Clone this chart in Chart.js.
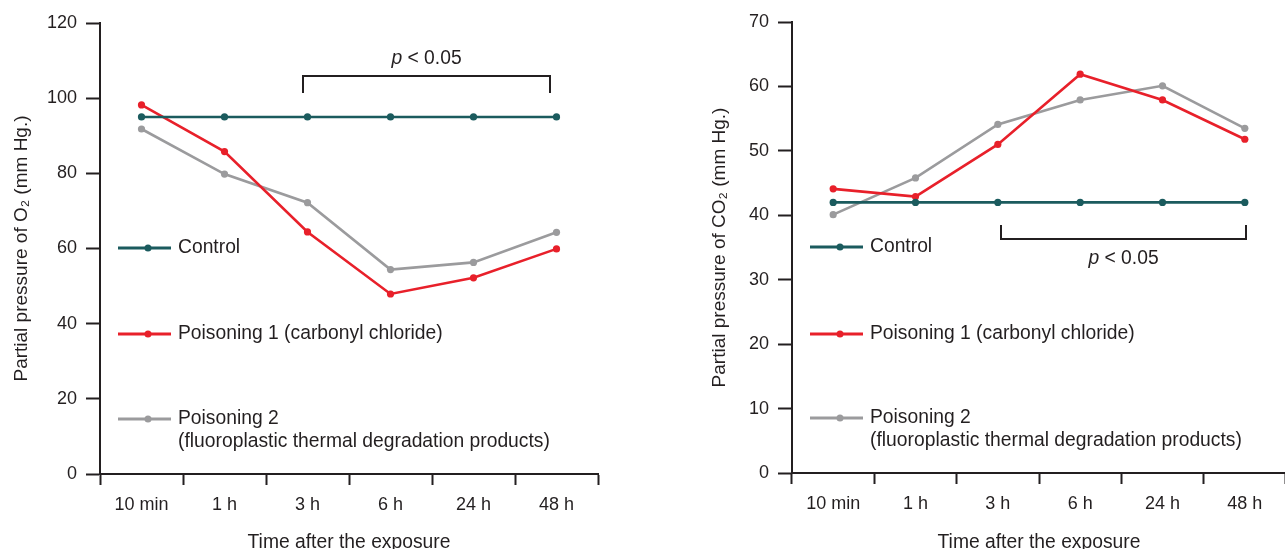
<!DOCTYPE html>
<html><head><meta charset="utf-8">
<script src="https://cdn.jsdelivr.net/npm/chart.js@4/dist/chart.umd.min.js"></script>
<style>
html,body{margin:0;padding:0;background:#fff;overflow:hidden;width:1285px;height:549px;position:relative;}
canvas{position:absolute;top:0;}
#c1{left:0;} #c2{left:690px;}
</style></head><body>
<canvas id="c1" width="640" height="560"></canvas>
<canvas id="c2" width="600" height="560"></canvas>
<script>
// ---- data ----
const categories = ['10 min', '1 h', '3 h', '6 h', '24 h', '48 h'];
const seriesNames = ['Control', 'Poisoning 1 (carbonyl chloride)', 'Poisoning 2'];
const legendLines = [['Control'], ['Poisoning 1 (carbonyl chloride)'], ['Poisoning 2', '(fluoroplastic thermal degradation products)']];
const o2Control = [95, 95, 95, 95, 95, 95];
const o2Poison1 = [98.2, 85.8, 64.4, 47.9, 52.2, 59.9];
const o2Poison2 = [91.8, 79.8, 72.2, 54.4, 56.3, 64.3];
const co2Control = [42, 42, 42, 42, 42, 42];
const co2Poison1 = [44.1, 42.9, 51.0, 61.9, 57.9, 51.8];
const co2Poison2 = [40.1, 45.8, 54.1, 57.9, 60.1, 53.5];
const o2TickValues = [0, 20, 40, 60, 80, 100, 120];
const co2TickValues = [0, 10, 20, 30, 40, 50, 60, 70];
const o2Title = 'Partial pressure of O\u2082 (mm Hg.)';
const co2Title = 'Partial pressure of CO\u2082 (mm Hg.)';
const xTitle = 'Time after the exposure';
const sigText = ['p', ' < 0.05'];

// ---- styles ----
const FAMILY = '"Liberation Sans", Arial, Helvetica, sans-serif';
const TEXT = '#231f20';
const AX = '#231f20';
const COLORS = ['#1b5b5e', '#e8202a', '#9b9b9d'];
const LEG_FONT = '19.3px ' + FAMILY;

const annotPlugin = {
  id: 'annot',
  afterDraw(chart, args, opts) {
    const ctx = chart.ctx, ca = chart.chartArea;
    const xs = chart.scales.x, ys = chart.scales.y;
    ctx.save();
    // legend
    opts.rows.forEach((row, i) => {
      const col = chart.data.datasets[i].borderColor;
      const ly = ca.top + row;
      const x0 = ca.left + 18, x1 = ca.left + 71;
      ctx.strokeStyle = col; ctx.lineWidth = 3;
      ctx.beginPath(); ctx.moveTo(x0, ly); ctx.lineTo(x1, ly); ctx.stroke();
      ctx.fillStyle = col;
      ctx.beginPath(); ctx.arc(x0 + 30, ly, 3.5, 0, Math.PI * 2); ctx.fill();
      ctx.fillStyle = TEXT; ctx.font = LEG_FONT;
      ctx.textAlign = 'left'; ctx.textBaseline = 'middle';
      legendLines[i].forEach((t, k) => ctx.fillText(t, ca.left + 78, ly + k * 23));
    });
    // significance bracket
    const b = opts.bracket;
    const xa = Math.round(xs.getPixelForValue(b.from)), xb = Math.round(xs.getPixelForValue(b.to));
    const yl = Math.round(ys.getPixelForValue(b.leg)), yh = Math.round(ys.getPixelForValue(b.bar));
    ctx.strokeStyle = AX; ctx.lineWidth = 2;
    ctx.beginPath(); ctx.moveTo(xa, yl); ctx.lineTo(xa, yh); ctx.lineTo(xb, yh); ctx.lineTo(xb, yl); ctx.stroke();
    const ty = ys.getPixelForValue(b.text);
    ctx.font = 'italic ' + LEG_FONT; const wp = ctx.measureText(sigText[0]).width;
    ctx.font = LEG_FONT; const wr = ctx.measureText(sigText[1]).width;
    let sx = (xa + xb) / 2 - (wp + wr) / 2;
    ctx.fillStyle = TEXT; ctx.textAlign = 'left'; ctx.textBaseline = 'middle';
    ctx.font = 'italic ' + LEG_FONT; ctx.fillText(sigText[0], sx, ty);
    ctx.font = LEG_FONT; ctx.fillText(sigText[1], sx + wp, ty);
    ctx.restore();
  }
};

function makeChart(id, vals, tickVals, yTitle, geo, annot) {
  const H = 560;
  const ds = vals.map((v, i) => ({
    label: seriesNames[i], data: v, borderColor: COLORS[i], backgroundColor: COLORS[i],
    borderWidth: 2.6, pointRadius: 3.6, pointHoverRadius: 3.6, pointBorderWidth: 0,
    pointBackgroundColor: COLORS[i], tension: 0, fill: false, clip: false
  }));
  return new Chart(document.getElementById(id), {
    type: 'line',
    data: { labels: categories, datasets: ds },
    plugins: [annotPlugin],
    options: {
      responsive: false, animation: false, devicePixelRatio: 1,
      layout: { padding: { left: 0, top: geo.top, right: geo.right, bottom: 0 } },
      plugins: { legend: { display: false }, tooltip: { enabled: false }, annot: annot },
      scales: {
        x: {
          type: 'category', offset: true,
          grid: { display: true, offset: true, drawOnChartArea: false, drawTicks: true, tickLength: 11, tickWidth: 2, tickColor: AX },
          border: { display: true, color: AX, width: 2 },
          ticks: { color: TEXT, font: { family: FAMILY, size: 18 }, padding: 9, maxRotation: 0, autoSkip: false },
          title: { display: true, text: xTitle, color: TEXT, font: { family: FAMILY, size: 19.3 }, padding: { top: 0, bottom: 6 } },
          afterFit(s) { s.height = H - geo.bottom; }
        },
        y: {
          min: tickVals[0], max: tickVals[tickVals.length - 1],
          afterBuildTicks(s) { s.ticks = tickVals.map(v => ({ value: v })); },
          grid: { display: true, drawOnChartArea: false, drawTicks: true, tickLength: 14, tickWidth: 2, tickColor: AX },
          border: { display: true, color: AX, width: 2 },
          ticks: { color: TEXT, font: { family: FAMILY, size: 18 }, padding: 9 },
          title: { display: true, text: yTitle, color: TEXT, font: { family: FAMILY, size: 19 }, padding: { top: geo.titlePad, bottom: 0 } },
          afterFit(s) { s.width = geo.left; }
        }
      }
    }
  });
}

makeChart('c1', [o2Control, o2Poison1, o2Poison2], o2TickValues, o2Title,
  { left: 100, top: 23, right: 42, bottom: 474, titlePad: 10.6 },
  { rows: [225, 311, 396], bracket: { from: 1.95, to: 4.92, leg: 101.3, bar: 105.9, text: 110.4 } });

makeChart('c2', [co2Control, co2Poison1, co2Poison2], co2TickValues, co2Title,
  { left: 102, top: 22, right: 4, bottom: 473, titlePad: 18.6 },
  { rows: [225, 312, 396], bracket: { from: 2.04, to: 5.02, leg: 38.5, bar: 36.3, text: 33.2 } });
</script>
</body></html>
